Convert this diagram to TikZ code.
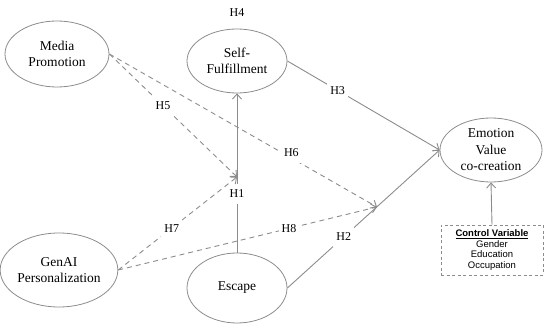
\documentclass[tikz,border=0pt]{standalone}
\usepackage{fontspec}
\setmainfont{Liberation Serif}
\setsansfont{Liberation Sans}
\usepackage{tikz}
\usetikzlibrary{arrows.meta, shapes}

\definecolor{linegray}{RGB}{140,140,140}

\tikzset{
    construct/.style={ellipse, draw=linegray, line width=0.8pt, align=center, inner sep=0pt, font=\fontsize{13.5}{16.5}\selectfont},
    hyp/.style={fill=white, inner xsep=3pt, inner ysep=6pt, font=\fontsize{12}{14}\selectfont},
    link/.style={draw=linegray, line width=0.9pt, -{Straight Barb[length=5pt, width=9pt]}},
    dlink/.style={link, dash pattern=on 5pt off 4pt},
}

\begin{document}
\begin{tikzpicture}[x=1pt, y=-1pt]
    \useasboundingbox (0,0) rectangle (550,331);

    % Constructs
    \node[construct, minimum width=104pt, minimum height=66pt] (media) at (57,54) {Media\\Promotion};
    \node[construct, minimum width=100pt, minimum height=64pt] (self) at (237,61) {Self-\\Fulfillment};
    \node[construct, minimum width=102pt, minimum height=64pt] (emotion) at (491,150) {Emotion\\Value\\co-creation};
    \node[construct, minimum width=114pt, minimum height=74pt] (genai) at (59,270) {GenAI\\Personalization};
    \node[construct, minimum width=100pt, minimum height=70pt] (escape) at (237,288) {Escape};
    \node[font=\fontsize{12}{14}\selectfont] (h4) at (237,13) {H4};

    % Control variables
    \node[draw=linegray, dash pattern=on 3pt off 2.5pt, line width=0.8pt, minimum width=102pt, minimum height=50pt, align=center, font=\sffamily\fontsize{9.5}{10.5}\selectfont] (control) at (492,250) {\underline{\textbf{Control Variable}}\\Gender\\Education\\Occupation};

    % Points on paths
    \coordinate (m1) at (237,177);
    \coordinate (m2) at (377,207);

    % Direct paths
    \draw[link] (escape.north) -- node[hyp, pos=0.37] {H1} (self.south);
    \draw[link] (escape.east) -- node[hyp, pos=0.37] {H2} (emotion.west);
    \draw[link] (self.east) -- node[hyp, pos=0.33] {H3} (emotion.west);
    \draw[link] (control.north) -- (emotion.south);

    % Moderating paths
    \draw[dlink] (media.east) -- node[hyp, pos=0.42] {H5} (m1);
    \draw[dlink] (media.east) -- node[hyp, pos=0.68, yshift=5pt] {H6} (m2);
    \draw[dlink] (genai.east) -- node[hyp, pos=0.45] {H7} (m1);
    \draw[dlink] (genai.east) -- node[hyp, pos=0.66] {H8} (m2);

\end{tikzpicture}
\end{document}
